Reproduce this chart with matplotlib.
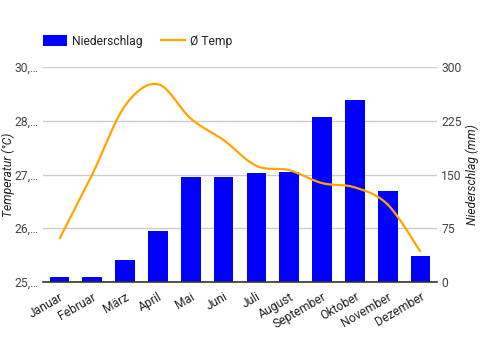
import numpy as np
import matplotlib
matplotlib.use("Agg")
from matplotlib import pyplot as plt
from matplotlib.patches import Patch
from matplotlib.lines import Line2D

months = ["Januar", "Februar", "März", "April", "Mai", "Juni", "Juli",
          "August", "September", "Oktober", "November", "Dezember"]
niederschlag = [7, 7, 31, 71, 146, 146, 152, 153, 230, 254, 127, 36]
temp = [26.0, 27.5, 29.1, 29.6, 28.8, 28.3, 27.7, 27.6, 27.3, 27.2, 26.8, 25.7]

temp_ticks = [25, 26.25, 27.5, 28.75, 30]
temp_labels = ["25,…", "26,…", "27,…", "28,…", "30,…"]
rain_ticks = [0, 75, 150, 225, 300]

plt.rcParams['font.family'] = ['Roboto', 'DejaVu Sans']
FS = 8.7

W, H = 481, 350
fig = plt.figure(figsize=(W / 100, H / 100), dpi=100)
L, R, T, B = 43, 437, 67, 282
ax = fig.add_axes([L / W, 1 - B / H, (R - L) / W, (B - T) / H])
ax2 = ax.twinx()

x = np.arange(len(months))

# bars on ax (right scale), line on ax2 (left scale) so the line sits on top
ax.bar(x, niederschlag, width=0.6, color="#0000ff", zorder=2)
ax.set_xlim(-0.5, len(months) - 0.5)
ax.set_ylim(0, 300)
ax.yaxis.tick_right()
ax.yaxis.set_label_position("right")
ax.set_yticks(rain_ticks)
ax.set_yticklabels([str(t) for t in rain_ticks])
ax.grid(axis="y", color="#cccccc", linewidth=1, zorder=0)
ax.set_axisbelow(True)


# catmull-rom smoothing, passes through every data point
def smooth(xs, ys, n=20):
    xs = np.asarray(xs, float)
    ys = np.asarray(ys, float)
    px = np.concatenate([[xs[0]], xs, [xs[-1]]])
    py = np.concatenate([[ys[0]], ys, [ys[-1]]])
    ox, oy = [], []
    t = np.linspace(0, 1, n)
    for i in range(1, len(px) - 2):
        for p, out in ((px, ox), (py, oy)):
            p0, p1, p2, p3 = p[i - 1], p[i], p[i + 1], p[i + 2]
            out.extend(0.5 * (2 * p1 + (-p0 + p2) * t
                              + (2 * p0 - 5 * p1 + 4 * p2 - p3) * t ** 2
                              + (-p0 + 3 * p1 - 3 * p2 + p3) * t ** 3))
    return np.array(ox), np.array(oy)


sx, sy = smooth(x, temp)
ax2.plot(sx, sy, color="#ffa500", linewidth=1.6, solid_capstyle="butt")
ax2.set_ylim(25, 30)
ax2.yaxis.tick_left()
ax2.yaxis.set_label_position("left")
ax2.set_yticks(temp_ticks)
ax2.set_yticklabels(temp_labels)

for a in (ax, ax2):
    for s in a.spines.values():
        s.set_visible(False)
    a.tick_params(axis="y", length=0, labelsize=FS, labelcolor="#444444", pad=3)
ax2.spines["bottom"].set_visible(True)
ax2.spines["bottom"].set_color("#333333")
ax2.spines["bottom"].set_linewidth(1.2)

ax.set_xticks(x)
ax.set_xticklabels(months, rotation=30, ha="right", rotation_mode="anchor")
ax.tick_params(axis="x", length=0, labelsize=FS, labelcolor="#222222", pad=6)

ax2.set_ylabel("Temperatur (°C)", fontsize=FS, style="italic", color="#222222")
ax2.yaxis.set_label_coords((15 - L) / (R - L), 0.5)
ax.set_ylabel("Niederschlag (mm)", fontsize=FS, style="italic", color="#222222",
              rotation=90)
ax.yaxis.set_label_coords((466 - L) / (R - L), 0.5)

handles = [Patch(facecolor="#0000ff", edgecolor="none"),
           Line2D([0], [0], color="#ffa500", linewidth=1.6)]
fig.legend(handles, ["Niederschlag", "Ø Temp"], loc="upper left",
           bbox_to_anchor=(43 / W, 1 - 35 / H), ncol=2, frameon=False,
           fontsize=FS, borderpad=0, borderaxespad=0, handlelength=1.98,
           handleheight=0.99, handletextpad=0.41, columnspacing=1.57,
           labelcolor="#222222")

fig.savefig("out.png", dpi=100)
